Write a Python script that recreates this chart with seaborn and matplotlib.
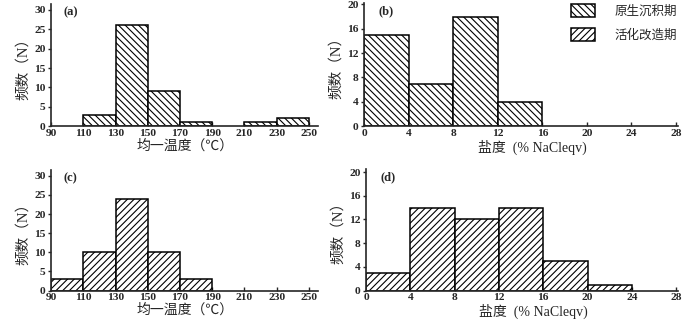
import matplotlib
matplotlib.use("Agg")
import matplotlib.pyplot as plt
import matplotlib.patches as mpatches
import numpy as np
import pandas as pd
import seaborn as sns

# homogenization temperature bins (deg C) and counts
temp_edges = [90, 110, 130, 150, 170, 190, 210, 230, 250]
temp_primary = [0, 3, 26, 9, 1, 0, 1, 2]
temp_reworked = [3, 10, 24, 10, 3, 0, 0, 0]

# salinity bins (% NaCleqv) and counts
sal_edges = [0, 4, 8, 12, 16, 20, 24, 28]
sal_primary = [15, 7, 18, 4, 0, 0, 0]
sal_reworked = [3, 14, 12, 14, 5, 1, 0]

temp_ticks = [90, 110, 130, 150, 170, 190, 210, 230, 250]
sal_ticks = [0, 4, 8, 12, 16, 20, 24, 28]

legend_labels = ["原生沉积期", "活化改造期"]
hatch_primary = "\\\\\\\\\\"
hatch_reworked = "/////"

FONTS = ["Liberation Serif", "Noto Sans CJK SC", "DejaVu Sans"]

sns.set_style("ticks")
plt.rcParams["font.family"] = FONTS
plt.rcParams["hatch.linewidth"] = 0.8

fig = plt.figure(figsize=(7.0, 3.21), dpi=100)


def draw_panel(rect, edges, counts, hatch, xlim, ylim, xticks, yticks, xlabel, tag, xlab_pos=0.5):
    ax = fig.add_axes(rect)
    e = np.asarray(edges, dtype=float)
    df = pd.DataFrame({"x": (e[:-1] + e[1:]) / 2, "n": counts})
    sns.histplot(data=df, x="x", weights="n", bins=list(edges), ax=ax,
                 color="white", edgecolor="black", linewidth=1.1, alpha=1)
    for p in ax.patches:
        p.set_hatch(hatch)
        if p.get_height() == 0:
            p.set_visible(False)
    ax.set_xlim(*xlim)
    ax.set_ylim(*ylim)
    ax.set_xticks(xticks)
    ax.set_yticks(yticks)
    for s in ["top", "right"]:
        ax.spines[s].set_visible(False)
    for s in ["left", "bottom"]:
        ax.spines[s].set_linewidth(1.2)
    ax.tick_params(axis="x", direction="in", length=3, width=1, pad=2, labelsize=8.2)
    ax.tick_params(axis="y", direction="out", length=2, width=1, pad=2, labelsize=8.2)
    for lab in ax.get_xticklabels() + ax.get_yticklabels():
        lab.set_fontweight("bold")
    ax.set_xlabel(xlabel, fontsize=10, labelpad=1)
    ax.xaxis.label.set_x(xlab_pos)
    ax.set_ylabel("频数（N）", fontsize=10.5, labelpad=3)
    ax.text(0.045, 0.98, tag, transform=ax.transAxes, fontsize=9,
            fontweight="bold", va="top", ha="left")
    return ax


draw_panel([0.073, 0.607, 0.382, 0.38], temp_edges, temp_primary, hatch_primary,
           (90, 256), (0, 31.5), temp_ticks, [0, 5, 10, 15, 20, 25, 30],
           "均一温度（℃）", "(a)")
draw_panel([0.52, 0.607, 0.449, 0.385], sal_edges, sal_primary, hatch_primary,
           (0, 28.2), (0, 20.3), sal_ticks, [0, 4, 8, 12, 16, 20],
           "盐度  (% NaCleqv)", "(b)", xlab_pos=0.535)
draw_panel([0.073, 0.095, 0.382, 0.375], temp_edges, temp_reworked, hatch_reworked,
           (90, 256), (0, 31.5), temp_ticks, [0, 5, 10, 15, 20, 25, 30],
           "均一温度（℃）", "(c)")
draw_panel([0.523, 0.095, 0.446, 0.38], sal_edges, sal_reworked, hatch_reworked,
           (0, 28.2), (0, 20.6), sal_ticks, [0, 4, 8, 12, 16, 20],
           "盐度  (% NaCleqv)", "(d)", xlab_pos=0.535)

handles = [
    mpatches.Patch(facecolor="white", edgecolor="black", linewidth=1.1, hatch=hatch_primary),
    mpatches.Patch(facecolor="white", edgecolor="black", linewidth=1.1, hatch=hatch_reworked),
]
fig.legend(handles, legend_labels, loc="upper left", bbox_to_anchor=(0.803, 1.015),
           frameon=False, handlelength=1.9, handleheight=1.2, labelspacing=0.85,
           handletextpad=1.6, borderaxespad=0.3, prop={"family": FONTS, "size": 9})

fig.savefig("out.png", dpi=100)
